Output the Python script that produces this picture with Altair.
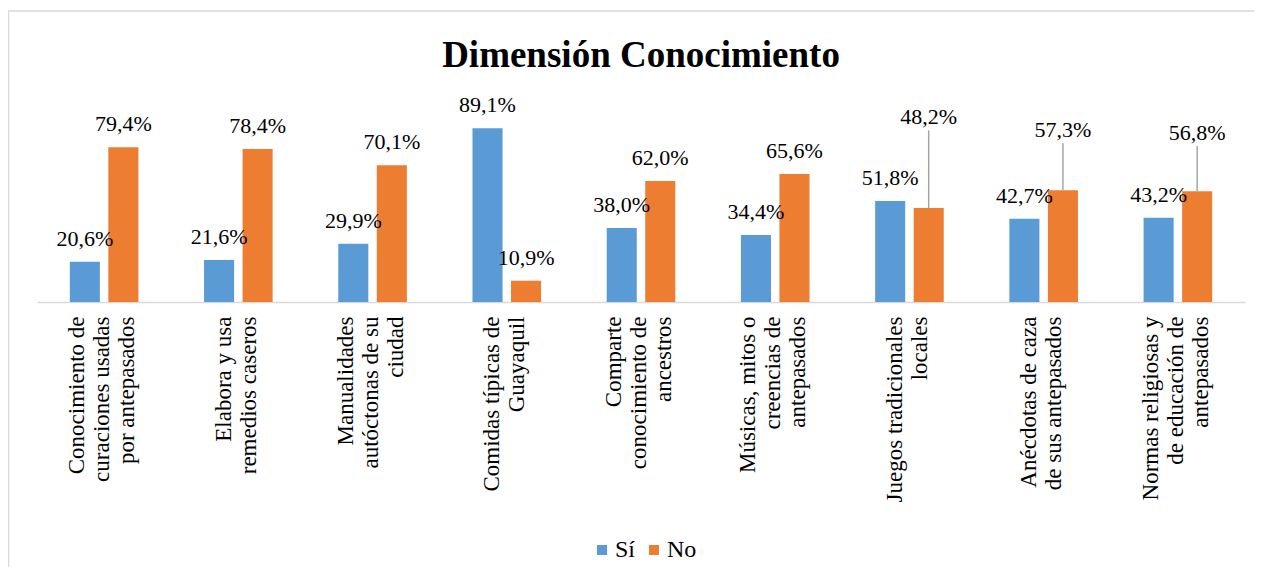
import altair as alt
import pandas as pd

# ---- data ----
categories = [
    "Conocimiento de|curaciones usadas|por antepasados",
    "Elabora y usa|remedios caseros",
    "Manualidades|autóctonas de su|ciudad",
    "Comidas típicas de|Guayaquil",
    "Comparte|conocimiento de|ancestros",
    "Músicas, mitos o|creencias de|antepasados",
    "Juegos tradicionales|locales",
    "Anécdotas de caza|de sus antepasados",
    "Normas religiosas y|de educación de|antepasados",
]
series = ["Sí", "No"]
si_values = [20.6, 21.6, 29.9, 89.1, 38.0, 34.4, 51.8, 42.7, 43.2]
no_values = [79.4, 78.4, 70.1, 10.9, 62.0, 65.6, 48.2, 57.3, 56.8]
colors = ["#5B9BD5", "#ED7D31"]

# data labels that were moved by hand (with a leader line), value of the leader top
moved_labels = {
    ("Juegos tradicionales|locales", "No"): 88.0,
    ("Anécdotas de caza|de sus antepasados", "No"): 81.5,
    ("Normas religiosas y|de educación de|antepasados", "No"): 80.0,
}

rows = []
for c, s_v, n_v in zip(categories, si_values, no_values):
    for s, v in (("Sí", s_v), ("No", n_v)):
        rows.append({
            "cat": c,
            "serie": s,
            "value": v,
            "label": f"{v:.1f}".replace(".", ",") + "%",
            "moved": (c, s) in moved_labels,
            "leader": moved_labels.get((c, s), v),
        })
df = pd.DataFrame(rows)

FONT = "Liberation Serif"
W, H = 1208, 195
LINE_H = 25

x_enc = alt.X(
    "cat:N",
    sort=categories,
    scale=alt.Scale(paddingInner=0.489, paddingOuter=0.2445),
    axis=alt.Axis(
        title=None,
        labelExpr="split(datum.label, '|')",
        labelAngle=270,
        labelAlign="right",
        labelBaseline="middle",
        labelPadding=14,
        labelOffset=alt.condition(
            "length(split(datum.label, '|')) == 3",
            alt.value(-LINE_H - 2),
            alt.value(-LINE_H / 2 - 2),
        ),
        labelFont=FONT,
        labelFontSize=23,
        labelLineHeight=LINE_H,
        labelColor="#000000",
        labelLimit=0,
        ticks=False,
        grid=False,
        domainColor="#D9D9D9",
        domainWidth=1.5,
    ),
)
xoff_enc = alt.XOffset("serie:N", sort=series, scale=alt.Scale(domain=series, paddingInner=0.22))
y_scale = alt.Scale(domain=[0, 100], nice=False)

base = alt.Chart(df)

bars = base.mark_bar().encode(
    x=x_enc,
    xOffset=xoff_enc,
    y=alt.Y("value:Q", scale=y_scale, axis=None),
    color=alt.Color(
        "serie:N",
        sort=series,
        scale=alt.Scale(domain=series, range=colors),
        legend=alt.Legend(
            title=None,
            orient="none",
            legendX=553,
            legendY=431,
            direction="horizontal",
            symbolType="square",
            symbolSize=100,
            symbolStrokeWidth=0,
            labelFont=FONT,
            labelFontSize=24,
            labelColor="#000000",
            labelOffset=1,
            columnPadding=6,
        ),
    ),
)

labels = base.transform_filter("!datum.moved").mark_text(
    dy=-16, baseline="alphabetic", font=FONT, fontSize=22, color="#000000"
).encode(
    x=alt.X("cat:N", sort=categories),
    xOffset=alt.XOffset("serie:N", sort=series),
    y=alt.Y("value:Q", scale=y_scale),
    text="label:N",
)

moved = base.transform_filter("datum.moved").mark_text(
    dy=-6, baseline="alphabetic", font=FONT, fontSize=22, color="#000000"
).encode(
    x=alt.X("cat:N", sort=categories),
    xOffset=alt.XOffset("serie:N", sort=series),
    y=alt.Y("leader:Q", scale=y_scale),
    text="label:N",
)

leaders = base.transform_filter("datum.moved").mark_rule(color="#A6A6A6", strokeWidth=1.5).encode(
    x=alt.X("cat:N", sort=categories),
    xOffset=alt.XOffset("serie:N", sort=series),
    y=alt.Y("leader:Q", scale=y_scale),
    y2="value:Q",
)

frame_df = pd.DataFrame({"k": [0]})
frame_top = alt.Chart(frame_df).mark_rule(color="#D9D9D9", strokeWidth=1.5).encode(
    x=alt.value(-29), x2=alt.value(W + 20), y=alt.value(-96)
)
frame_left = alt.Chart(frame_df).mark_rule(color="#D9D9D9", strokeWidth=1.5).encode(
    x=alt.value(-28.5), y=alt.value(-96), y2=alt.value(H + 280)
)

chart = alt.layer(bars, leaders, labels, moved, frame_top, frame_left).properties(
    width=W,
    height=H,
    title=alt.TitleParams(
        "Dimensión Conocimiento",
        font=FONT,
        fontSize=37,
        fontWeight="bold",
        color="#000000",
        anchor="middle",
        baseline="alphabetic",
        offset=-94,
    ),
    autosize=alt.AutoSizeParams(type="none"),
    padding={"left": 29, "top": 99, "right": 9, "bottom": 265},
).configure(
    font=FONT,
    background="white",
    view=alt.ViewConfig(stroke=None),
)

chart.save("out.html", embed_options={"renderer": "svg", "actions": False})
